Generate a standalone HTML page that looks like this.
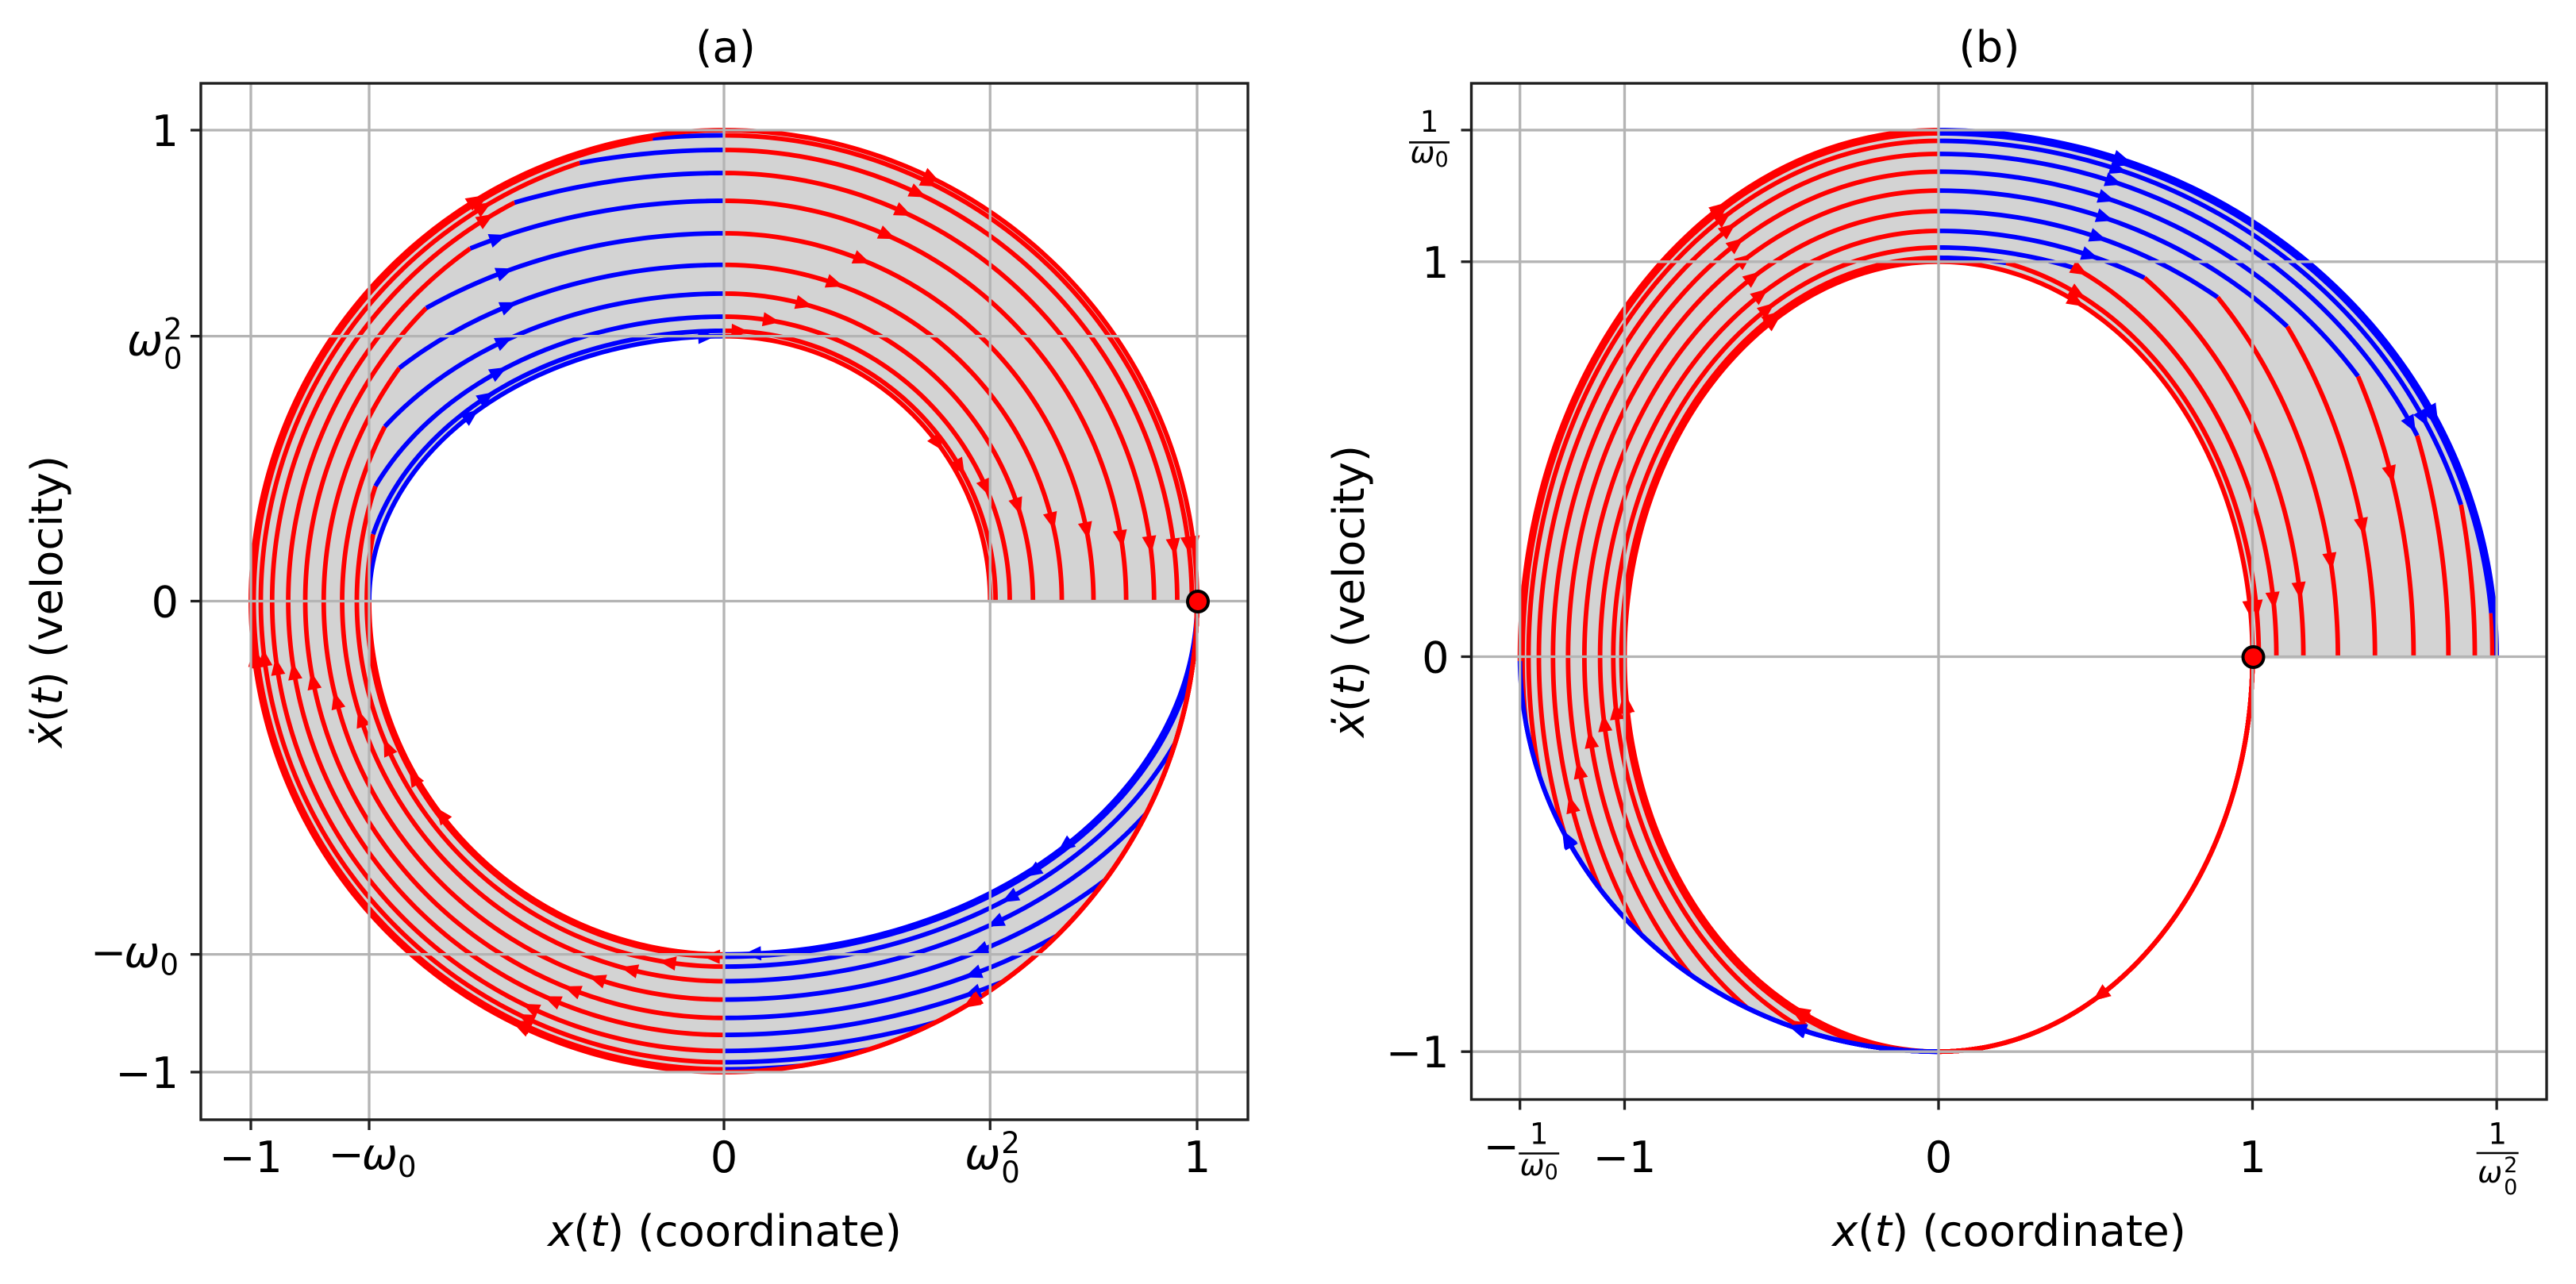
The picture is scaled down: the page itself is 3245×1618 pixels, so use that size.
<!DOCTYPE html>
<html lang="en">
<head>
<meta charset="utf-8">
<title>Phase portraits (a) and (b)</title>
<style>
html,body{margin:0;padding:0;background:#fff;}
svg{display:block;}
text{font-family:"DejaVu Sans","Liberation Sans",sans-serif;fill:#000;}
</style>
</head>
<body>
<svg id="figure" xmlns="http://www.w3.org/2000/svg" width="3245" height="1618" viewBox="0 0 3245 1618">
  <rect x="0" y="0" width="3245" height="1618" fill="#fff"/>
  <g id="panel-a"></g>
  <g id="panel-b"></g>
  <text x="914" y="78" font-size="54.4" text-anchor="middle">(a)</text>
  <text x="2506" y="78" font-size="54.4" text-anchor="middle">(b)</text>
  <text x="913" y="1570" font-size="54.4" text-anchor="middle"><tspan font-style="italic">x</tspan>(<tspan font-style="italic">t</tspan>) (coordinate)</text>
  <text x="2531" y="1570" font-size="54.4" text-anchor="middle"><tspan font-style="italic">x</tspan>(<tspan font-style="italic">t</tspan>) (coordinate)</text>
  <text transform="translate(78,758) rotate(-90)" font-size="54.4" text-anchor="middle"><tspan font-style="italic">ẋ</tspan>(<tspan font-style="italic">t</tspan>) (velocity)</text>
  <text transform="translate(1718,745) rotate(-90)" font-size="54.4" text-anchor="middle"><tspan font-style="italic">ẋ</tspan>(<tspan font-style="italic">t</tspan>) (velocity)</text>
</svg>
<script>
// ---- data ----
const omega0 = 0.75;

// Panel (a): velocity magnitude at x=0 (lower half) and at x=0 (upper half) per trajectory
const lowerCrossA = [0.75, 0.755, 0.776, 0.807, 0.846, 0.885, 0.921, 0.955, 0.979, 0.994, 1.0];
const upperCrossA = [0.5625, 0.574, 0.604, 0.653, 0.714, 0.781, 0.85, 0.909, 0.958, 0.989, 1.0];
// Panel (a): arrow phases in degrees, clockwise from the starting point (1,0)
const arrowsA1 = [35.8, 40.9, 45.7, 49.9, 53.4, 55.9, 57.7, 58, 58, 58, 58];
const arrowsA2 = [85, 91.8, 98.7, 104.4, 108.2, 111.3, 113.2, 114.8, 115.3, 115.3, 115.3];
const arrowsA3 = [142.8, 149.7, 156.3, 161.5, 165.5, 168.5, 170.5, 171.6, 172.5, 172.5, 172.5];
const arrowsA4 = [216, 220.8, 225.7, 230, 233.5, 235.9, 237.7, 238, 238.2, 238.3, 238.3];
const arrowsA5 = [266, 273, 279.4, 284.7, 288.7, 291.7, 293.5, 294.6, 295.3, 295.5, 295.5];
const arrowsA6 = [323.3, 330.2, 336.6, 342, 346.1, 349, 351, 352, 352.7, 353, 353];

// Panel (b): turning-point value on the circle through (-u,0),(0,u), and final x crossing
const upperCrossB = [1.0, 1.01, 1.036, 1.078, 1.128, 1.18, 1.228, 1.273, 1.306, 1.325, 1.3333];
const rightCrossB = [1.0, 1.02, 1.076, 1.162, 1.272, 1.39, 1.513, 1.624, 1.708, 1.764, 1.778];
const arrowsB1 = [58.5, 58.5, 58.5, 58.5, 58.5, 58.5, 58.5, 58.5, 58.5, 58.5, 58.5];
const arrowsB2 = [115.5, 115.5, 115.5, 115.5, 115.5, 115.5, 115.5, 115.5, 115.5, 115.5, 115.5];
const arrowsB3 = [172.8, 172.5, 172.3, 171, 169, 165.8, 162.2, 158.5, 158.5, 158.5, 158.5];
const arrowsB4 = [238, 238, 238, 238, 238, 238, 238, 238, 238, 238, 238];
const arrowsB5 = [295.7, 295.5, 294.6, 294.9, 294.9, 294.8, 294.8, 294.9, 294.9, 294.7, 294.7];
const arrowsB6 = [353.1, 353, 352.3, 351.1, 349, 345.9, 342.2, 338.6, 338.4, 338.3, 338.3];

// Ticks
const xTicksA = [-1, -0.75, 0, 0.5625, 1];
const yTicksA = [1, 0.5625, 0, -0.75, -1];
const xTickLabelsA = ['−1', '−w0', '0', 'w02', '1'];
const yTickLabelsA = ['1', 'w02', '0', '−w0', '−1'];
const xTicksB = [-1.3333, -1, 0, 1, 1.7778];
const yTicksB = [1.3333, 1, 0, -1];
const xTickLabelsB = ['−f1', '−1', '0', '1', 'f2'];
const yTickLabelsB = ['f1', '1', '0', '−1'];

// ---- axis functions ----
const RED = '#ff0000', BLUE = '#0000ff', GRID = '#b4b4b4', FRAME = '#1f1f1f';
const TWO_PI = Math.PI * 2;
const panelA = {
  left: 253, right: 1572, top: 105, bottom: 1411,
  sx: function (d) { return 912 + 596 * d; },
  sy: function (d) { return 757.5 - 593.5 * d; }
};
const panelB = {
  left: 1853.5, right: 3208, top: 105, bottom: 1385.5,
  sx: function (d) { return 2442 + 395.5 * d; },
  sy: function (d) { return 827.5 - 497.7 * d; }
};

const NS = 'http://www.w3.org/2000/svg';
function mk(parent, tag, attrs) {
  const el = document.createElementNS(NS, tag);
  for (const k in attrs) el.setAttribute(k, attrs[k]);
  parent.appendChild(el);
  return el;
}
function group(parent) { return mk(parent, 'g', {}); }

// ---- trajectory geometry in data coordinates ----
function pushArc(segs, color, a, b, t0, t1) {
  const pts = [];
  const n = Math.max(2, Math.ceil(Math.abs(t1 - t0) / 0.012));
  for (let k = 0; k <= n; k++) {
    const t = t0 + (t1 - t0) * k / n;
    pts.push([a * Math.cos(t), b * Math.sin(t)]);
  }
  segs.push({ color: color, pts: pts });
}
function paramAt(x, y, a, b, prev) {
  let t = Math.atan2(y / b, x / a);
  while (t > prev + 1e-9) t -= TWO_PI;
  return t;
}
function trajectoryA(v, w) {
  const segs = [];
  const om = omega0, q = 1 - om * om;
  const y1 = Math.sqrt(Math.min(1, Math.max(0, (v * v - om * om) / q)));
  const x1 = Math.sqrt(Math.max(0, 1 - y1 * y1));
  const t1 = paramAt(x1, -y1, 1, 1, 0);
  pushArc(segs, RED, 1, 1, 0, t1);
  const a2 = v / om;
  pushArc(segs, BLUE, a2, v, paramAt(x1, -y1, a2, v, 0), -Math.PI / 2);
  const y2 = Math.sqrt(Math.min(v * v, Math.max(0, (w * w - om * om * v * v) / q)));
  const x2 = -Math.sqrt(Math.max(0, v * v - y2 * y2));
  const t2 = paramAt(x2, y2, v, v, -Math.PI);
  pushArc(segs, RED, v, v, -Math.PI / 2, t2);
  const a4 = w / om;
  pushArc(segs, BLUE, a4, w, paramAt(x2, y2, a4, w, -Math.PI), -1.5 * Math.PI);
  pushArc(segs, RED, w, w, -1.5 * Math.PI, -TWO_PI);
  return segs;
}
function trajectoryB(u, w) {
  const segs = [];
  const om = omega0, q = 1 - om * om;
  pushArc(segs, RED, 1, 1, 0, -Math.PI / 2);
  const x1 = -Math.sqrt(Math.min(u * u, Math.max(0, (u * u - 1) / q)));
  const y1 = -Math.sqrt(Math.max(0, u * u - x1 * x1));
  const a2 = 1 / om;
  pushArc(segs, BLUE, a2, 1, -Math.PI / 2, paramAt(x1, y1, a2, 1, -Math.PI / 2));
  pushArc(segs, RED, u, u, paramAt(x1, y1, u, u, -Math.PI / 2), -1.5 * Math.PI);
  const x2 = Math.sqrt(Math.min(w * w, Math.max(0, (w * w - u * u) / q)));
  const y2 = Math.sqrt(Math.max(0, w * w - x2 * x2));
  const a4 = u / om;
  const t4 = paramAt(x2, y2, a4, u, -1.5 * Math.PI);
  pushArc(segs, BLUE, a4, u, -1.5 * Math.PI, t4);
  pushArc(segs, RED, w, w, paramAt(x2, y2, w, w, -1.5 * Math.PI), -TWO_PI);
  return segs;
}
function phaseOf(p) {
  let deg = -Math.atan2(p[1], p[0]) * 180 / Math.PI;
  if (deg < -1e-6) deg += 360;
  return deg;
}
function pathFrom(pts, panel) {
  let d = '';
  for (let k = 0; k < pts.length; k++) {
    d += (k ? 'L' : 'M') + panel.sx(pts[k][0]).toFixed(2) + ' ' + panel.sy(pts[k][1]).toFixed(2);
  }
  return d;
}
function arrowAt(parent, segs, panel, phase) {
  for (let s = 0; s < segs.length; s++) {
    const pts = segs[s].pts;
    for (let k = 1; k < pts.length; k++) {
      const ph0 = phaseOf(pts[k - 1]);
      let ph1 = phaseOf(pts[k]);
      if (ph1 < ph0 - 180) ph1 += 360;
      if (phase >= ph0 && phase <= ph1) {
        const x0 = panel.sx(pts[k - 1][0]), y0 = panel.sy(pts[k - 1][1]);
        const x1 = panel.sx(pts[k][0]), y1 = panel.sy(pts[k][1]);
        const len = Math.hypot(x1 - x0, y1 - y0) || 1;
        const ux = (x1 - x0) / len, uy = (y1 - y0) / len;
        const nx = -uy, ny = ux;
        const L = 22, W = 9;
        const cx = x1, cy = y1;
        const d = 'M' + (cx + ux * L * 0.5) + ' ' + (cy + uy * L * 0.5) +
          'L' + (cx - ux * L * 0.5 + nx * W) + ' ' + (cy - uy * L * 0.5 + ny * W) +
          'L' + (cx - ux * L * 0.5 - nx * W) + ' ' + (cy - uy * L * 0.5 - ny * W) + 'Z';
        const el = mk(parent, 'path', { d: d, fill: segs[s].color });
        
        
        return;
      }
    }
  }
}

// ---- tick labels ----
function t(parent, str, x, y, size, anchor, italic) {
  const el = mk(parent, 'text', { x: x, y: y, 'font-size': size, 'text-anchor': anchor });
  if (italic) el.setAttribute('font-style', 'italic');
  el.textContent = str;
  return el;
}
function rule(parent, x0, x1, y) {
  return mk(parent, 'line', { x1: x0, x2: x1, y1: y, y2: y, stroke: '#000', 'stroke-width': 2.6 });
}
function tickLabel(parent, token, axis, panel, pos) {
  const g = group(parent);
  
  
  const isX = axis === 'x';
  const edge = panel.left - 28;
  if (token === 'w02') {
    const left = isX ? pos - 32 : edge - 65;
    const base = isX ? 1473 : pos + 24;
    t(g, 'ω', left, base, 54, 'start', true);
    t(g, '2', left + 46, base - 20, 37, 'start', false);
    t(g, '0', left + 46, base + 17, 37, 'start', false);
  } else if (token === '−w0') {
    const el = mk(g, 'text', { x: isX ? pos + 4 : edge, y: isX ? 1473 : pos + 16, 'font-size': 54, 'text-anchor': isX ? 'middle' : 'end' });
    const a = mk(el, 'tspan', {}); a.textContent = '−';
    const b = mk(el, 'tspan', { 'font-style': 'italic', dx: -3 }); b.textContent = 'ω';
    const c = mk(el, 'tspan', { 'font-size': 37, dy: 10 }); c.textContent = '0';
  } else if (token === 'f1' || token === '−f1') {
    const neg = token === '−f1';
    const cx = neg ? pos + 24 : edge + 0;
    const center = neg ? cx : edge - 25;
    const num = neg ? 1441.5 : pos + 2;
    const ruleY = neg ? 1453.5 : pos + 15.5;
    const den = neg ? 1481 : pos + 41;
    if (neg) t(g, '−', cx - 70, 1463, 54, 'start', false);
    t(g, '1', center, num, 37, 'middle', false);
    rule(g, center - 25.5, center + 25.5, ruleY);
    t(g, 'ω', center - 24, den, 37, 'start', true);
    t(g, '0', center + 7, den + 5, 27, 'start', false);
  } else if (token === 'f2') {
    t(g, '1', pos + 1, 1441.5, 37, 'middle', false);
    rule(g, pos - 25.5, pos + 27.5, 1453);
    t(g, 'ω', pos - 24, 1490, 37, 'start', true);
    t(g, '2', pos + 9, 1477, 27, 'start', false);
    t(g, '0', pos + 9, 1505, 27, 'start', false);
  } else if (isX) {
    t(g, token, pos, 1477, 54, 'middle', false);
  } else {
    t(g, token, edge, pos + 20, 54, 'end', false);
  }
}

// ---- panel drawing ----
function drawPanel(rootId, panel, trajectories, arrowSets, xTicks, xLabels, yTicks, yLabels) {
  const root = document.getElementById(rootId);

  const outer = trajectories[trajectories.length - 1];
  const inner = trajectories[0];
  let boundary = [];
  outer.forEach(function (s) { boundary = boundary.concat(s.pts); });
  let innerPts = [];
  inner.forEach(function (s) { innerPts = innerPts.concat(s.pts); });
  boundary = boundary.concat(innerPts.reverse());
  const fillEl = mk(root, 'path', { d: pathFrom(boundary, panel) + 'Z', fill: '#d3d3d3', stroke: '#d3d3d3', 'stroke-width': 5.5, 'stroke-linejoin': 'round' });
  
  

  const curveGroup = group(root);
  
  
  trajectories.forEach(function (segs) {
    const tg = group(curveGroup);
    
    
    segs.forEach(function (s) {
      const p = mk(tg, 'path', { d: pathFrom(s.pts, panel), fill: 'none', stroke: s.color, 'stroke-width': 5.8, 'stroke-linecap': 'butt', 'stroke-linejoin': 'round' });
      
      
    });
  });

  const arrowGroup = group(root);
  
  
  trajectories.forEach(function (segs, i) {
    arrowSets.forEach(function (set) { arrowAt(arrowGroup, segs, panel, set[i]); });
  });

  const gridGroup = group(root);
  
  
  const tickGroup = group(root);
  
  
  xTicks.forEach(function (v, i) {
    const px = panel.sx(v);
    const gl = mk(gridGroup, 'line', { x1: px, x2: px, y1: panel.top, y2: panel.bottom, stroke: GRID, 'stroke-width': 3.3 });
    
    
    const tk = mk(tickGroup, 'line', { x1: px, x2: px, y1: panel.bottom, y2: panel.bottom + 13, stroke: FRAME, 'stroke-width': 3.3 });
    
    
    tickLabel(tickGroup, xLabels[i], 'x', panel, px);
  });
  yTicks.forEach(function (v, i) {
    const py = panel.sy(v);
    const gl = mk(gridGroup, 'line', { x1: panel.left, x2: panel.right, y1: py, y2: py, stroke: GRID, 'stroke-width': 3.3 });
    
    
    const tk = mk(tickGroup, 'line', { x1: panel.left - 13, x2: panel.left, y1: py, y2: py, stroke: FRAME, 'stroke-width': 3.3 });
    
    
    tickLabel(tickGroup, yLabels[i], 'y', panel, py);
  });

  const dot = mk(root, 'circle', { cx: panel.sx(1) + 1, cy: panel.sy(0) + 0.5, r: 13, fill: RED, stroke: '#000', 'stroke-width': 4 });
  
  

  const frame = mk(root, 'rect', { x: panel.left, y: panel.top, width: panel.right - panel.left, height: panel.bottom - panel.top, fill: 'none', stroke: FRAME, 'stroke-width': 3.4 });
  
  
}

const trajectoriesA = lowerCrossA.map(function (v, i) { return trajectoryA(v, upperCrossA[i]); });
const trajectoriesB = upperCrossB.map(function (u, i) { return trajectoryB(u, rightCrossB[i]); });

drawPanel('panel-a', panelA, trajectoriesA,
  [arrowsA1, arrowsA2, arrowsA3, arrowsA4, arrowsA5, arrowsA6],
  xTicksA, xTickLabelsA, yTicksA, yTickLabelsA);
drawPanel('panel-b', panelB, trajectoriesB,
  [arrowsB1, arrowsB2, arrowsB3, arrowsB4, arrowsB5, arrowsB6],
  xTicksB, xTickLabelsB, yTicksB, yTickLabelsB);
</script>
</body>
</html>
